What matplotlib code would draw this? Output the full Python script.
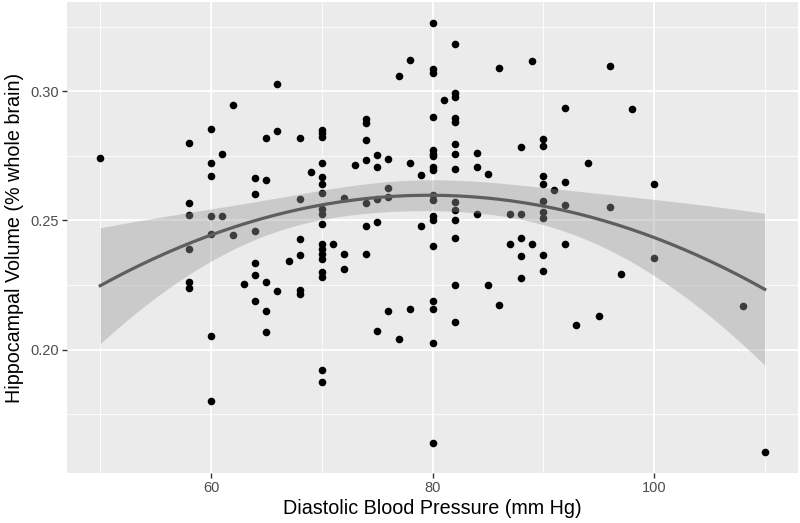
import numpy as np
import matplotlib
matplotlib.use("Agg")
import matplotlib.pyplot as plt
from matplotlib.ticker import MultipleLocator

# ---- data ----
dbp = ([50] + [58]*6 + [60]*7 + [61]*2 + [62]*2 + [63] + [64]*6 + [65]*5 + [66]*3 + [67]
       + [68]*6 + [69] + [70]*18 + [71] + [72]*3 + [73] + [74]*7 + [75]*5 + [76]*4
       + [77]*2 + [78]*3 + [79]*2 + [80]*18 + [81] + [82]*14 + [84]*3 + [85]*2 + [86]*2
       + [87]*2 + [88]*5 + [89]*2 + [90]*9 + [91] + [92]*4 + [93] + [94] + [95] + [96]*2
       + [97] + [98] + [100]*2 + [108] + [110])
hv = [0.274,
      0.280, 0.2566, 0.2521, 0.2390, 0.2261, 0.2239,
      0.2855, 0.2722, 0.2673, 0.2517, 0.2448, 0.2053, 0.1802,
      0.2756, 0.2517,
      0.2946, 0.2444,
      0.2255,
      0.2664, 0.2600, 0.2459, 0.2336, 0.2290, 0.2187,
      0.2819, 0.2655, 0.2262, 0.2151, 0.2069,
      0.3028, 0.2845, 0.2228,
      0.2342,
      0.2818, 0.2584, 0.2429, 0.2367, 0.2231, 0.2213,
      0.2686,
      0.2851, 0.2836, 0.2823, 0.2722, 0.2668, 0.2642, 0.2606, 0.2545, 0.2526, 0.2487,
      0.2410, 0.2390, 0.2371, 0.2352, 0.2300, 0.2280, 0.1922, 0.1876,
      0.2410,
      0.2587, 0.2371, 0.2311,
      0.2713,
      0.2894, 0.2875, 0.2810, 0.2735, 0.2567, 0.2477, 0.2371,
      0.2751, 0.2707, 0.2584, 0.2493, 0.2072,
      0.2739, 0.2625, 0.2590, 0.2151,
      0.3059, 0.2039,
      0.3119, 0.2722, 0.2156,
      0.2674, 0.2477,
      0.3262, 0.3085, 0.3069, 0.2898, 0.2771, 0.2758, 0.2748, 0.2707, 0.2694, 0.2597,
      0.2578, 0.2516, 0.2500, 0.2399, 0.2187, 0.2155, 0.2026, 0.1638,
      0.2966,
      0.3183, 0.2991, 0.2976, 0.2897, 0.2880, 0.2797, 0.2756, 0.2699, 0.2571, 0.2541,
      0.2503, 0.2430, 0.2251, 0.2106,
      0.2761, 0.2707, 0.2523,
      0.2681, 0.2251,
      0.3088, 0.2174,
      0.2526, 0.2407,
      0.2784, 0.2526, 0.2433, 0.2362, 0.2275,
      0.3116, 0.2407,
      0.2815, 0.2788, 0.2671, 0.2642, 0.2574, 0.2532, 0.2508, 0.2367, 0.2304,
      0.2619,
      0.2935, 0.2649, 0.2558, 0.2410,
      0.2094,
      0.2720,
      0.2129,
      0.3096, 0.2552,
      0.2293,
      0.2929,
      0.2641, 0.2355,
      0.2167,
      0.1605]

x_ticks = [60, 80, 100]
y_ticks = [0.20, 0.25, 0.30]
x_label = "Diastolic Blood Pressure (mm Hg)"
y_label = "Hippocampal Volume (% whole brain)"

x = np.asarray(dbp, float)
y = np.asarray(hv, float)

# ---- quadratic fit with 95% CI (like geom_smooth(method='lm', y ~ poly(x,2))) ----
X = np.column_stack([np.ones_like(x), x, x**2])
beta, *_ = np.linalg.lstsq(X, y, rcond=None)
resid = y - X @ beta
n, p = X.shape
s2 = resid @ resid / (n - p)
cov = s2 * np.linalg.inv(X.T @ X)
xs = np.linspace(x.min(), x.max(), 200)
Xs = np.column_stack([np.ones_like(xs), xs, xs**2])
fit = Xs @ beta
se = np.sqrt(np.einsum("ij,jk,ik->i", Xs, cov, Xs))
tcrit = 1.975
lo, hi = fit - tcrit * se, fit + tcrit * se

# ---- figure ----
plt.rcParams["font.family"] = ["Liberation Sans", "DejaVu Sans"]
fig = plt.figure(figsize=(8, 5.23), dpi=100)
ax = fig.add_axes([67/800, 1 - 473/523, (798 - 67)/800, (473 - 2)/523])
ax.set_facecolor("#EBEBEB")
for sp in ax.spines.values():
    sp.set_visible(False)

xr = x.max() - x.min()
yr = y.max() - y.min()
ax.set_xlim(x.min() - 0.05*xr, x.max() + 0.05*xr)
ax.set_ylim(y.min() - 0.05*yr, y.max() + 0.05*yr)

ax.xaxis.set_minor_locator(MultipleLocator(10))
ax.yaxis.set_minor_locator(MultipleLocator(0.025))
ax.set_xticks(x_ticks)
ax.set_yticks(y_ticks)
ax.set_xticklabels([str(t) for t in x_ticks])
ax.set_yticklabels([f"{t:.2f}" for t in y_ticks])

ax.grid(which="major", color="white", linewidth=1.3)
ax.grid(which="minor", color="white", linewidth=0.6)
ax.set_axisbelow(True)

ax.tick_params(which="major", length=3.5, width=1.0, color="#333333",
               labelcolor="#4D4D4D", labelsize=10.5, pad=2.5)
ax.tick_params(which="minor", length=0)

ax.scatter(x, y, s=30, color="black", linewidths=0, zorder=2)
ax.fill_between(xs, lo, hi, color="#999999", alpha=0.4, linewidth=0, zorder=3)
ax.plot(xs, fit, color="#5E5E5E", linewidth=2.3, zorder=4)

ax.set_xlabel(x_label, fontsize=14.2, color="black", labelpad=3)
ax.set_ylabel(y_label, fontsize=14.2, color="black", labelpad=4)

fig.savefig("out.png", dpi=100)
